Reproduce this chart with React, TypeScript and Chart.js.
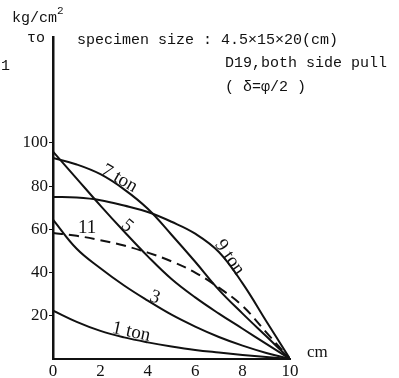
import React, { useEffect, useRef } from "react";
import { Chart, registerables } from "chart.js";

Chart.register(...registerables);

const xs = [0, 1, 2, 3, 4, 5, 6, 7, 8, 9, 10];
const ton1 = [22.4, 17.2, 13, 10, 7.7, 5.8, 4.2, 3, 1.9, 0.9, 0];
const ton3 = [64.5, 51, 42, 34, 27, 20.5, 15, 10.2, 6.2, 2.8, 0];
const ton5 = [96, 83.5, 71, 59, 47.5, 37, 28.5, 21, 14, 7, 0];
const ton7 = [93, 90, 85.5, 78.5, 69.5, 57.5, 45, 32, 21, 10.5, 0];
const ton9 = [75, 74.7, 73.5, 71, 68, 63.5, 58, 49.5, 35, 17.5, 0];
const ton11 = [58.3, 57, 55, 52.5, 49.2, 45.2, 40, 33, 24.5, 12.3, 0];
const yTicks = [20, 40, 60, 80, 100];
const xTicks = [0, 2, 4, 6, 8, 10];

const curveLabels = [
  { text: "7 ton", x: 2.8, y: 83.5, rot: 30 },
  { text: "5", x: 3.13, y: 61.5, rot: 40 },
  { text: "9 ton", x: 7.45, y: 47, rot: 55 },
  { text: "11", x: 1.44, y: 60.5, rot: 0 },
  { text: "3", x: 4.3, y: 28.5, rot: 20 },
  { text: "1 ton", x: 3.3, y: 12.5, rot: 12 },
];

const textPlugin = {
  id: "texts",
  afterDraw(chart: any) {
    const ctx = chart.ctx;
    const xs_ = chart.scales.x;
    const ys_ = chart.scales.y;
    ctx.save();
    ctx.fillStyle = "#111";
    ctx.textBaseline = "middle";
    ctx.textAlign = "center";
    ctx.font = "19px 'Liberation Serif', serif";
    for (const l of curveLabels) {
      const px = xs_.getPixelForValue(l.x);
      const py = ys_.getPixelForValue(l.y);
      ctx.save();
      ctx.translate(px, py);
      ctx.rotate((l.rot * Math.PI) / 180);
      ctx.fillText(l.text, 0, 0);
      ctx.restore();
    }
    ctx.font = "17px 'Liberation Serif', serif";
    ctx.textAlign = "left";
    ctx.fillText("cm", 307, 353);

    ctx.font = "15px 'Liberation Mono', monospace";
    ctx.textAlign = "left";
    ctx.fillText("kg/cm", 12, 18);
    ctx.font = "11px 'Liberation Mono', monospace";
    ctx.fillText("2", 57, 11);
    ctx.font = "15px 'Liberation Mono', monospace";
    ctx.fillText("\u03c4o", 27, 38);
    ctx.fillText("1", 1, 66);
    ctx.fillText("specimen size : 4.5\u00d715\u00d720(cm)", 77, 40);
    ctx.fillText("D19,both side pull", 225, 63);
    ctx.fillText("( \u03b4=\u03c6/2 )", 225, 87);
    ctx.restore();
  },
};

function ds(data: number[], dashed = false) {
  return {
    data: xs.map((x, i) => ({ x, y: data[i] })),
    borderColor: "#111",
    borderWidth: 2,
    borderDash: dashed ? [10, 6] : [],
    pointRadius: 0,
    tension: 0.4,
    fill: false,
  };
}

export default function App() {
  const ref = useRef<HTMLCanvasElement | null>(null);
  useEffect(() => {
    document.body.style.margin = "0";
    const c = new Chart(ref.current!, {
      type: "line",
      data: {
        datasets: [ds(ton1), ds(ton3), ds(ton5), ds(ton7), ds(ton9), ds(ton11, true)],
      },
      options: {
        animation: false,
        responsive: false,
        layout: { padding: { top: 37, right: 109, left: 0, bottom: 0 } },
        plugins: { legend: { display: false }, tooltip: { enabled: false } },
        scales: {
          x: {
            type: "linear",
            min: 0,
            max: 10,
            afterFit: (s: any) => { s.height = 19; },
            afterBuildTicks: (s: any) => { s.ticks = xTicks.map((v) => ({ value: v })); },
            grid: { display: true, drawOnChartArea: false, drawTicks: false, color: "#111" },
            border: { display: true, color: "#111", width: 2 },
            ticks: {
              color: "#111",
              padding: 2,
              maxRotation: 0,
              font: { family: "'Liberation Serif', serif", size: 17 },
            },
          },
          y: {
            type: "linear",
            min: 0,
            max: 149,
            afterFit: (s: any) => { s.width = 53; },
            afterBuildTicks: (s: any) => { s.ticks = yTicks.map((v) => ({ value: v })); },
            grid: { display: true, drawOnChartArea: false, tickLength: 4, color: "#111" },
            border: { display: true, color: "#111", width: 2.5 },
            ticks: {
              color: "#111",
              padding: 1,
              font: { family: "'Liberation Serif', serif", size: 17 },
            },
          },
        },
      },
      plugins: [textPlugin],
    });
    return () => c.destroy();
  }, []);
  return <canvas ref={ref} width={399} height={378} style={{ display: "block" }} />;
}
